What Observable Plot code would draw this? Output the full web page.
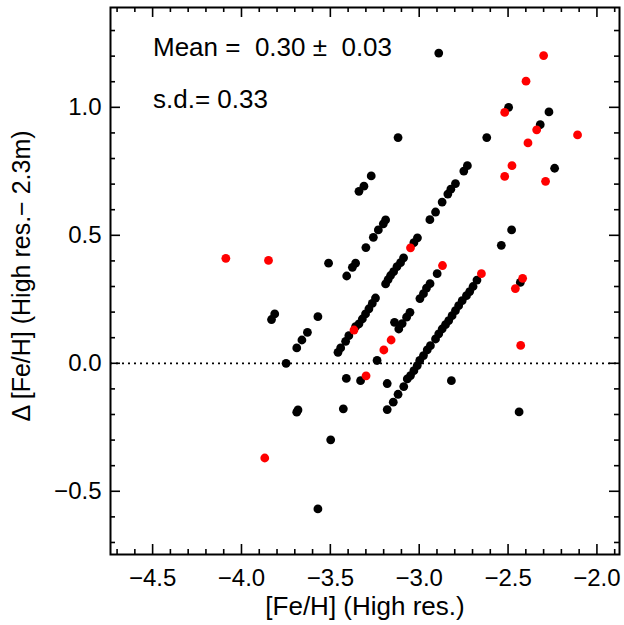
<!DOCTYPE html>
<html>
<head>
<meta charset="utf-8">
<script src="https://cdn.jsdelivr.net/npm/d3@7"></script>
<script src="https://cdn.jsdelivr.net/npm/@observablehq/plot@0.6"></script>
<style>
  html, body { margin: 0; padding: 0; background: #fff; }
</style>
</head>
<body>
<div id="chart"></div>
<script>
// ---- data ----
const blackFeH = [
  -3.813, -3.831, -3.570, -3.629, -3.660, -3.689, -3.749, -3.410, -3.682, -3.689,
  -3.427, -3.498, -3.570, -3.510, -3.408, -3.376, -3.358,
  -3.457, -3.442, -3.414, -3.396, -3.358, -3.339, -3.320, -3.302, -3.283, -3.264, -3.246,
  -3.339, -3.311, -3.270, -3.300, -3.258, -3.230, -3.202, -3.189, -3.119,
  -3.189, -3.175, -3.161, -3.144, -3.125, -3.105, -3.088, -3.030, -3.010, -2.940,
  -2.908, -2.871, -2.839, -2.822, -2.796, -2.749, -2.729,
  -3.237, -3.139, -3.115, -3.096, -3.071, -3.052, -2.996, -2.976, -2.959, -2.939, -2.899,
  -3.180, -3.146, -3.119, -3.087, -3.067, -3.049, -3.030, -3.011, -2.997, -2.976,
  -2.955, -2.937, -2.908, -2.890, -2.871, -2.852, -2.834, -2.815, -2.796, -2.778,
  -2.758, -2.734, -2.716, -2.697, -2.675,
  -3.330, -3.180, -2.819, -2.438, -2.431, -2.538, -2.480, -2.238, -2.620, -2.319,
  -2.270, -2.497, -2.890
];
const blackDelta = [
  0.193, 0.171, 0.182, 0.121, 0.091, 0.060, 0.000, -0.059, -0.182, -0.191,
  -0.178, -0.299, -0.569, 0.391, 0.341, 0.375, 0.391,
  0.043, 0.060, 0.086, 0.108, 0.143, 0.154, 0.173, 0.193, 0.213, 0.234, 0.255,
  0.672, 0.692, 0.732, 0.452, 0.492, 0.521, 0.545, 0.560, 0.882,
  0.310, 0.327, 0.343, 0.358, 0.378, 0.393, 0.412, 0.471, 0.490, 0.561,
  0.591, 0.630, 0.661, 0.680, 0.702, 0.751, 0.772,
  0.011, 0.160, 0.134, 0.155, 0.180, 0.199, 0.253, 0.272, 0.294, 0.311, 0.350,
  -0.181, -0.152, -0.121, -0.091, -0.061, -0.048, -0.029, -0.009, 0.011, 0.030,
  0.052, 0.069, 0.095, 0.115, 0.134, 0.151, 0.167, 0.186, 0.206, 0.225,
  0.245, 0.264, 0.280, 0.300, 0.325,
  -0.068, -0.079, -0.068, -0.190, 0.316, 0.461, 0.521, 0.762, 0.882, 0.932,
  0.982, 1.000, 1.212
];
const redFeH = [
  -4.088, -3.848, -3.869, -3.367, -3.049, -3.299, -3.199, -3.158, -2.869, -2.650,
  -2.459, -2.418, -2.429, -2.519, -2.478, -2.289, -2.388, -2.339, -2.109, -2.519,
  -2.399, -2.300
];
const redDelta = [
  0.410, 0.402, -0.370, 0.130, 0.451, -0.049, 0.052, 0.091, 0.382, 0.350,
  0.292, 0.332, 0.070, 0.730, 0.772, 0.711, 0.861, 0.912, 0.892, 0.980,
  1.102, 1.202
];
const xMajorTicks = [-4.5, -4.0, -3.5, -3.0, -2.5, -2.0];
const xMinorTicks = [-4.7, -4.6, -4.4, -4.3, -4.2, -4.1, -3.9, -3.8, -3.7, -3.6,
  -3.4, -3.3, -3.2, -3.1, -2.9, -2.8, -2.7, -2.6, -2.4, -2.3, -2.2, -2.1, -1.9];
const yMajorTicks = [-0.5, 0.0, 0.5, 1.0];
const yMinorTicks = [-0.7, -0.6, -0.4, -0.3, -0.2, -0.1, 0.1, 0.2, 0.3, 0.4,
  0.6, 0.7, 0.8, 0.9, 1.1, 1.2, 1.3];
const xDomain = [-4.737, -1.873];
const yDomain = [-0.747, 1.39];
const xLabel = "[Fe/H] (High res.)";
const yLabel = "\u0394 [Fe/H] (High res.\u2212 2.3m)";
const meanText = "Mean =\u00a0 0.30 \u00b1\u00a0 0.03";
const sdText = "s.d.= 0.33";

// ---- build ----
const black = blackFeH.map((x, i) => ({x, y: blackDelta[i]}));
const red = redFeH.map((x, i) => ({x, y: redDelta[i]}));

const W = 624, H = 625, mL = 110, mR = 5, mT = 7, mB = 71;
const pw = W - mL - mR, ph = H - mT - mB;
const fmt = d3.format(".1f");
const font = "'Liberation Sans', Arial, Helvetica, sans-serif";

const chart = Plot.plot({
  width: W, height: H,
  marginLeft: mL, marginRight: mR, marginTop: mT, marginBottom: mB,
  x: {domain: xDomain},
  y: {domain: yDomain},
  style: {fontFamily: font, fontSize: "24px", background: "#fff", color: "#000"},
  marks: [
    Plot.ruleY([0], {strokeDasharray: "2,4", strokeWidth: 1.8, stroke: "#000"}),
    Plot.dot(black, {x: "x", y: "y", r: 4.4, fill: "#000"}),
    Plot.dot(red, {x: "x", y: "y", r: 4.4, fill: "#ff0000"}),
    // inward ticks (bottom / top)
    Plot.tickX(xMajorTicks, {x: d => d, insetTop: ph - 10, strokeWidth: 1.6}),
    Plot.tickX(xMajorTicks, {x: d => d, insetBottom: ph - 10, strokeWidth: 1.6}),
    Plot.tickX(xMinorTicks, {x: d => d, insetTop: ph - 5, strokeWidth: 1.6}),
    Plot.tickX(xMinorTicks, {x: d => d, insetBottom: ph - 5, strokeWidth: 1.6}),
    // inward ticks (left / right)
    Plot.tickY(yMajorTicks, {y: d => d, insetRight: pw - 10, strokeWidth: 1.6}),
    Plot.tickY(yMajorTicks, {y: d => d, insetLeft: pw - 10, strokeWidth: 1.6}),
    Plot.tickY(yMinorTicks, {y: d => d, insetRight: pw - 5, strokeWidth: 1.6}),
    Plot.tickY(yMinorTicks, {y: d => d, insetLeft: pw - 5, strokeWidth: 1.6}),
    // tick labels
    Plot.axisX(xMajorTicks, {anchor: "bottom", tickSize: 0, tickPadding: 14, tickFormat: fmt, label: null, fontSize: 24}),
    Plot.axisY(yMajorTicks, {anchor: "left", tickSize: 0, tickPadding: 9, tickFormat: fmt, label: null, fontSize: 24}),
    Plot.frame({stroke: "#000", strokeWidth: 2}),
    // axis titles
    Plot.text([xLabel], {frameAnchor: "bottom", dy: 52, text: d => d, fontSize: 26, lineAnchor: "middle", textAnchor: "middle"}),
    Plot.text([yLabel], {frameAnchor: "left", dx: -88.5, dy: -5, text: d => d, rotate: -90, fontSize: 25, lineAnchor: "middle", textAnchor: "middle"}),
    // annotations
    Plot.text([meanText], {frameAnchor: "top-left", dx: 42.5, dy: 48.3, text: d => d, fontSize: 26, lineAnchor: "bottom", textAnchor: "start"}),
    Plot.text([sdText], {frameAnchor: "top-left", dx: 42.5, dy: 100.3, text: d => d, fontSize: 26, lineAnchor: "bottom", textAnchor: "start"})
  ]
});
document.getElementById("chart").appendChild(chart);
</script>
</body>
</html>
